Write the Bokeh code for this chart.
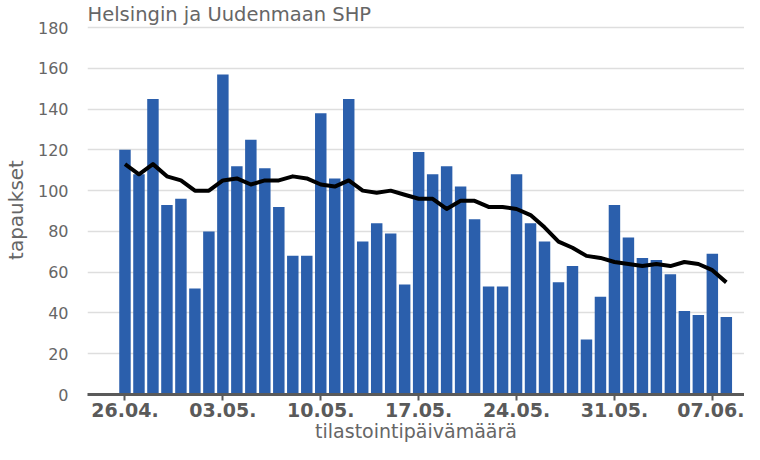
from bokeh.plotting import figure
from bokeh.models import FixedTicker, Range1d
from bokeh.embed import file_html
from bokeh.resources import INLINE

title_text = "Helsingin ja Uudenmaan SHP"
x_label = "tilastointipäivämäärä"
y_label = "tapaukset"

dates = ["26.04.", "27.04.", "28.04.", "29.04.", "30.04.", "01.05.", "02.05.",
         "03.05.", "04.05.", "05.05.", "06.05.", "07.05.", "08.05.", "09.05.",
         "10.05.", "11.05.", "12.05.", "13.05.", "14.05.", "15.05.", "16.05.",
         "17.05.", "18.05.", "19.05.", "20.05.", "21.05.", "22.05.", "23.05.",
         "24.05.", "25.05.", "26.05.", "27.05.", "28.05.", "29.05.", "30.05.",
         "31.05.", "01.06.", "02.06.", "03.06.", "04.06.", "05.06.", "06.06.",
         "07.06.", "08.06."]

cases = [120, 108, 145, 93, 96, 52, 80,
         157, 112, 125, 111, 92, 68, 68,
         138, 106, 145, 75, 84, 79, 54,
         119, 108, 112, 102, 86, 53, 53,
         108, 84, 75, 55, 63, 27, 48,
         93, 77, 67, 66, 59, 41, 39,
         69, 38]

avg7 = [113, 108, 113, 107, 105, 100, 100,
        105, 106, 103, 105, 105, 107, 106,
        103, 102, 105, 100, 99, 100, 98,
        96, 96, 91, 95, 95, 92, 92,
        91, 88, 82, 75, 72, 68, 67,
        65, 64, 63, 64, 63, 65, 64,
        61, 55]

tick_labels = ["26.04.", "03.05.", "10.05.", "17.05.", "24.05.", "31.05.", "07.06."]
y_ticks = [0, 20, 40, 60, 80, 100, 120, 140, 160, 180]

x = list(range(len(dates)))
tick_pos = [dates.index(t) for t in tick_labels]

FONT = "DejaVu Sans"
GRAY = "#666666"
DARK = "#5a5a5a"

p = figure(width=744, height=444, output_backend="svg", toolbar_location=None,
           x_range=Range1d(-2.68, 44.3), y_range=Range1d(0, 181),
           min_border_left=77, min_border_right=0, min_border_top=10,
           min_border_bottom=10)
p.outline_line_color = None
p.background_fill_color = "white"
p.border_fill_color = "white"

p.vbar(x=x, top=cases, width=0.82, fill_color="#2b5fac", line_color=None)
p.line(x, avg7, line_width=4, line_color="black", line_join="round")

p.title.text = title_text
p.title.text_font = FONT
p.title.text_font_size = "19.5px"
p.title.text_font_style = "normal"
p.title.text_color = GRAY
p.title.align = "left"
p.title.standoff = 0

p.xgrid.visible = False
p.ygrid.grid_line_color = "#dedede"
p.ygrid.grid_line_width = 1.6
p.ygrid.ticker = FixedTicker(ticks=y_ticks)

xa = p.xaxis[0]
xa.ticker = FixedTicker(ticks=tick_pos)
xa.major_label_overrides = {pos: lbl for pos, lbl in zip(tick_pos, tick_labels)}
xa.axis_line_color = DARK
xa.axis_line_width = 3
xa.major_tick_line_color = DARK
xa.major_tick_line_width = 2
xa.major_tick_in = 0
xa.major_tick_out = 6
xa.minor_tick_line_color = None
xa.major_label_text_font = FONT
xa.major_label_text_font_size = "19px"
xa.major_label_text_font_style = "bold"
xa.major_label_text_color = DARK
xa.major_label_standoff = 2
xa.axis_label = x_label
xa.axis_label_text_font = FONT
xa.axis_label_text_font_size = "19px"
xa.axis_label_text_font_style = "normal"
xa.axis_label_text_color = GRAY
xa.axis_label_standoff = 0

ya = p.yaxis[0]
ya.ticker = FixedTicker(ticks=y_ticks)
ya.axis_line_color = None
ya.major_tick_line_color = None
ya.minor_tick_line_color = None
ya.major_label_text_font = FONT
ya.major_label_text_font_size = "16px"
ya.major_label_text_color = GRAY
ya.major_label_standoff = 13
ya.axis_label = y_label
ya.axis_label_text_font = FONT
ya.axis_label_text_font_size = "20px"
ya.axis_label_text_font_style = "normal"
ya.axis_label_text_color = GRAY
ya.axis_label_standoff = 7

open("out.html", "w").write(file_html(p, INLINE))
